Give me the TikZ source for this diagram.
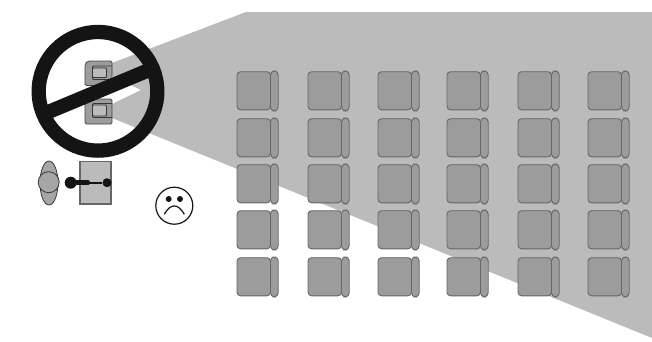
\documentclass[tikz,border=0pt]{standalone}
\definecolor{beam}{HTML}{BBBBBB}
\definecolor{seat}{HTML}{9C9C9C}
\definecolor{seatline}{HTML}{666666}
\definecolor{ink}{HTML}{141414}
\tikzset{
  seatpart/.style={fill=seat,draw=seatline,line width=0.9pt},
  devicepart/.style={fill=seat,draw=ink!80!white,line width=0.8pt,rounded corners=1.5pt},
  lens/.style={fill=beam,draw=ink!85!white,line width=0.8pt,rounded corners=1pt},
  personpart/.style={fill=seat!90!white,draw=ink!85!white,line width=0.8pt},
}
\begin{document}
\begin{tikzpicture}[x=1pt,y=-1pt]
\useasboundingbox (0,0) rectangle (652,341);
% projected light
\fill[beam] (246,12) -- (652,12) -- (652,338) -- (112,118) -- (112,104) -- (141,90) -- (112,76) -- (112,63) -- cycle;
% seats
\foreach \x in {237,308,378,447,518,588}
  \foreach \y in {71,118,164,210,257} {
    \draw[seatpart,rounded corners=3.5pt] (\x,\y+0.7) rectangle (\x+33.5,\y+38.8);
    \draw[seatpart,rounded corners=3.9pt] (\x+33.5,\y) rectangle (\x+41.2,\y+39.8);
  }
% projectors
\draw[devicepart] (112,61) -- (88,61) -- (85,64) -- (85,85.5) -- (112,85.5) -- cycle;
\draw[lens,fill=none] (112,66) -- (92.5,66) -- (92.5,79.5) -- (112,79.5);
\draw[lens] (92.5,68) rectangle (106.5,77.5);
\draw[devicepart] (112,99) -- (85,99) -- (85,124) -- (112,124) -- cycle;
\draw[lens,fill=none] (112,103.5) -- (92.5,103.5) -- (92.5,117.5) -- (112,117.5);
\draw[lens] (92.5,105) rectangle (106.5,116);
% prohibition sign
\draw[ink,line width=14.3pt] (98,91.3) circle[radius=59.3];
\draw[ink,line width=14.3pt] (43.3,114.1) -- (152.7,68.5);
% presenter
\draw[personpart] (49,183) ellipse[x radius=9,y radius=22];
\draw[personpart] (48.7,182.2) circle[radius=10.5];
\draw[fill=beam,draw=seatline,line width=1.2pt] (80,161.5) rectangle (111,204);
\node[circle,fill=ink,inner sep=0pt,minimum size=12pt] (handL) at (70.7,182.7) {};
\node[circle,fill=ink,inner sep=0pt,minimum size=9pt] (handR) at (107,182.7) {};
\coordinate (mid) at (88,182.7);
\draw[ink,line width=4.5pt,line cap=round] (handL) -- (mid);
\draw[ink,line width=1.8pt] (handL) -- (handR);
% sad face
\draw[ink,line width=1.2pt,fill=white] (174.3,205.7) circle[radius=18.5];
\fill[ink] (168.7,199) circle[radius=3] (180,199) circle[radius=3];
\draw[ink,line width=1.2pt] (164.3,214.3) .. controls (168,208) and (171,206) .. (174.3,206) .. controls (177.6,206) and (180.6,208) .. (184.3,214.3);
\end{tikzpicture}
\end{document}
